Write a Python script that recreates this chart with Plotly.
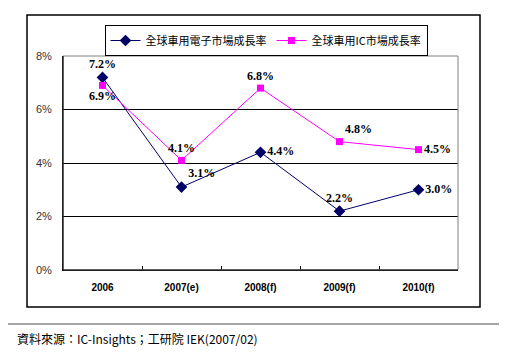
import plotly.graph_objects as go

categories = ["2006", "2007(e)", "2008(f)", "2009(f)", "2010(f)"]
electronics_growth = [7.2, 3.1, 4.4, 2.2, 3.0]
ic_growth = [6.9, 4.1, 6.8, 4.8, 4.5]
series_names = ["全球車用電子市場成長率", "全球車用IC市場成長率"]
y_ticks = [0, 2, 4, 6, 8]
y_tick_labels = ["0%", "2%", "4%", "6%", "8%"]
source_text = "資料來源：IC-Insights；工研院 IEK(2007/02)"

# the page body has an 8px default margin; figure is sized to compensate
OFF = 8
W, H = 507 - OFF, 355 - OFF
L, R, T, B = 63 - OFF, 49, 56 - OFF, 85
PW, PH = W - L - R, H - T - B


def px(x):  # screen x -> paper fraction
    return (x - OFF - L) / PW


def py(y):  # screen y -> paper fraction
    return (H - B - (y - OFF)) / PH


label_font = dict(family="Liberation Serif", size=12, color="#000000", weight="bold")

fig = go.Figure()
fig.add_trace(go.Scatter(
    x=categories, y=electronics_growth, name=series_names[0],
    mode="lines+markers+text",
    line=dict(color="#000066", width=1),
    marker=dict(symbol="diamond", size=9, color="#000066"),
    text=[f"{v:.1f}%" for v in electronics_growth],
    textposition=["top center", "top right", "middle right", "top center", "middle right"],
    textfont=label_font, cliponaxis=False,
))
fig.add_trace(go.Scatter(
    x=categories, y=ic_growth, name=series_names[1],
    mode="lines+markers+text",
    line=dict(color="#FF00FF", width=1),
    marker=dict(symbol="square", size=7, color="#FF00FF"),
    text=[f"{v:.1f}%" for v in ic_growth],
    textposition=["bottom center", "top center", "top center", "top right", "middle right"],
    textfont=label_font, cliponaxis=False,
))

fig.update_layout(
    width=W, height=H,
    margin=dict(l=L, r=R, t=T, b=B, autoexpand=False),
    paper_bgcolor="white", plot_bgcolor="white",
    font=dict(family="Liberation Sans", size=11, color="#000000"),
    showlegend=True,
    legend=dict(
        orientation="h", x=px(266), xanchor="center", y=py(25), yanchor="top",
        bordercolor="#000000", borderwidth=1, bgcolor="white",
        font=dict(family="Noto Sans CJK TC", size=11, color="#000000"),
        itemwidth=30, tracegroupgap=0,
    ),
    xaxis=dict(
        type="category", range=[-0.5, 4.5],
        showline=True, linecolor="#000000", linewidth=1,
        ticks="inside", tickson="boundaries", ticklen=4, tickcolor="#000000",
        showgrid=False,
        tickfont=dict(family="Liberation Sans", size=10, color="#000000", weight="bold"),
        ticklabelstandoff=8,
    ),
    yaxis=dict(
        range=[0, 8], tickvals=y_ticks, ticktext=y_tick_labels,
        showline=True, linecolor="#000000", linewidth=1,
        showgrid=True, gridcolor="#000000", gridwidth=1,
        zeroline=False, ticks="",
        tickfont=dict(family="Liberation Sans", size=11, color="#333333"),
        ticklabelstandoff=8,
    ),
    shapes=[
        dict(type="rect", xref="paper", yref="paper", x0=0, x1=1, y0=0, y1=1,
             line=dict(color="#808080", width=1), layer="above"),
        dict(type="rect", xref="paper", yref="paper",
             x0=px(27), x1=px(480), y0=py(307), y1=py(15),
             line=dict(color="#000000", width=1.5), layer="below"),
        dict(type="line", xref="paper", yref="paper",
             x0=px(OFF), x1=px(507), y0=py(324), y1=py(324),
             line=dict(color="#888888", width=1.5)),
        dict(type="line", xref="paper", yref="paper", x0=0, x1=0, y0=0, y1=1,
             line=dict(color="#000000", width=1), layer="above"),
        dict(type="line", xref="paper", yref="paper", x0=0, x1=1, y0=0, y1=0,
             line=dict(color="#000000", width=1), layer="above"),
    ],
    annotations=[
        dict(text=source_text, xref="paper", yref="paper",
             x=px(15), xanchor="left", y=py(338), yanchor="middle",
             showarrow=False,
             font=dict(family="Noto Sans CJK TC", size=12, color="#000000")),
    ],
)

fig.write_html("out.html")
